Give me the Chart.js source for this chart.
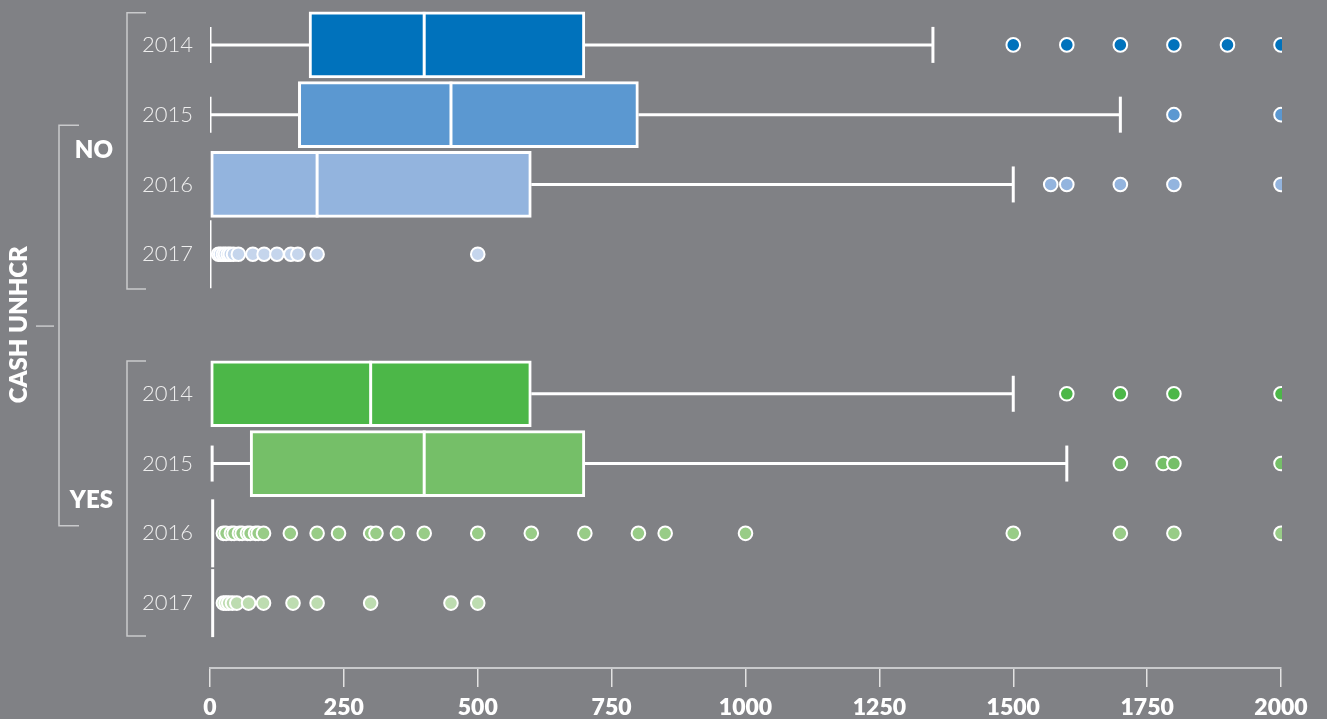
<!DOCTYPE html>
<html lang="en">
<head>
<meta charset="UTF-8">
<title>Cash UNHCR - box plot</title>
<script src="https://cdn.jsdelivr.net/npm/chart.js"></script>
<style>
  html, body { margin: 0; padding: 0; background: #808185; }
  #wrap { width: 1327px; height: 719px; }
</style>
</head>
<body>
<div id="wrap"><canvas id="chart"></canvas></div>
<script>
// rows from top to bottom, slot 4 is the gap between the two groups
const rowLabels = ['2014', '2015', '2016', '2017', '', '2014', '2015', '2016', '2017'];
const groupLabels = ['NO', 'YES'];
const axisTitle = 'CASH UNHCR';
const xTicks = [0, 250, 500, 750, 1000, 1250, 1500, 1750, 2000];

const whiskerLow  = [0,    0,    0,    0, null, 0,    4,    5, 5];
const q1          = [185,  165,  0,    0, null, 0,    75,   5, 5];
const median      = [400,  450,  200,  0, null, 300,  400,  5, 5];
const q3          = [700,  800,  600,  0, null, 600,  700,  5, 5];
const whiskerHigh = [1350, 1700, 1500, 0, null, 1500, 1600, 5, 5];

const outNo2014 = [1500, 1600, 1700, 1800, 1900, 2000];
const outNo2015 = [1800, 2000];
const outNo2016 = [1570, 1600, 1700, 1800, 2000];
const outNo2017 = [16, 20, 25, 29, 34, 38, 44, 53, 80, 101, 125, 151, 164, 200, 500];
const outYes2014 = [1600, 1700, 1800, 2000];
const outYes2015 = [1700, 1780, 1800, 2000];
const outYes2016 = [25, 30, 40, 45, 55, 60, 70, 75, 85, 90, 100, 150, 200, 240, 300, 310, 350, 400, 500, 600, 700, 800, 850, 1000, 1500, 1700, 1800, 2000];
const outYes2017 = [25, 30, 35, 42, 50, 72, 100, 155, 200, 300, 450, 500];
const outliers = [outNo2014, outNo2015, outNo2016, outNo2017, null, outYes2014, outYes2015, outYes2016, outYes2017];

const rowColors = ['#0072bc', '#5b98d1', '#93b4de', '#c5d5ec', null, '#4cb748', '#75bf68', '#98cc87', '#bddcb0'];

const rows = rowLabels.map((l, i) => i).filter(i => rowLabels[i] !== '');
const datasets = [];

// whiskers
rows.forEach(i => {
  if (whiskerLow[i] < q1[i]) {
    datasets.push({ type: 'line', order: 3, data: [{ x: whiskerLow[i], y: i }, { x: q1[i], y: i }],
      borderColor: '#fff', borderWidth: 3, pointRadius: 0 });
  }
  if (whiskerHigh[i] > q3[i]) {
    datasets.push({ type: 'line', order: 3, data: [{ x: q3[i], y: i }, { x: whiskerHigh[i], y: i }],
      borderColor: '#fff', borderWidth: 3, pointRadius: 0 });
  }
});

// whisker caps
const caps = [];
rows.forEach(i => {
  if (whiskerLow[i] < q1[i]) caps.push({ x: whiskerLow[i], y: i });
  if (whiskerHigh[i] > q3[i]) caps.push({ x: whiskerHigh[i], y: i });
});
datasets.push({ type: 'scatter', order: 3, data: caps, pointStyle: 'line', rotation: 90,
  pointRadius: 18, borderColor: '#fff', borderWidth: 3 });

// boxes
datasets.push({
  type: 'bar', indexAxis: 'y', order: 2,
  data: rows.filter(i => q3[i] > q1[i]).map(i => ({ y: i, x: [q1[i], q3[i]] })),
  backgroundColor: c => rowColors[c.raw.y],
  borderColor: '#fff', borderWidth: 3, borderSkipped: false, barThickness: 66
});

// medians
datasets.push({ type: 'scatter', order: 1, data: rows.map(i => ({ x: median[i], y: i })),
  pointStyle: 'line', rotation: 90, borderColor: '#fff', borderWidth: 3,
  pointRadius: c => (q3[c.raw.y] > q1[c.raw.y] ? 33 : 34) });

// outliers
rows.forEach(i => {
  datasets.push({ type: 'scatter', order: 0, data: outliers[i].map(v => ({ x: v, y: i })),
    backgroundColor: rowColors[i], borderColor: '#fff', borderWidth: 2, pointRadius: 6.8,
    clip: { left: 10, top: 10, right: 1, bottom: 10 } });
});

const sideLabels = {
  id: 'sideLabels',
  afterDraw(chart) {
    const ctx = chart.ctx;
    const py = v => chart.scales.y.getPixelForValue(v);
    const bracket = (x, top, bottom, len) => {
      ctx.beginPath();
      ctx.moveTo(x + len, top); ctx.lineTo(x, top); ctx.lineTo(x, bottom); ctx.lineTo(x + len, bottom);
      ctx.stroke();
    };
    ctx.save();
    ctx.strokeStyle = '#c9cacc';
    ctx.lineWidth = 1.5;
    bracket(127, py(-0.46), py(3.5), 19);
    bracket(127, py(4.53), py(8.47), 19);
    bracket(59, py(1.15), py(6.89), 20);
    ctx.beginPath(); ctx.moveTo(36, py(4.03)); ctx.lineTo(54, py(4.03)); ctx.stroke();

    ctx.fillStyle = '#fff';
    ctx.font = '800 24px Lato';
    ctx.textAlign = 'right';
    ctx.textBaseline = 'middle';
    ctx.fillText(groupLabels[0], 113, py(1.51));
    ctx.fillText(groupLabels[1], 113, py(6.52));
    ctx.translate(19, py(4.01));
    ctx.rotate(-Math.PI / 2);
    ctx.textAlign = 'center';
    ctx.fillText(axisTitle, 0, 0);
    ctx.restore();
  }
};

new Chart(document.getElementById('chart'), {
  type: 'bar',
  data: { datasets: datasets },
  options: {
    responsive: true,
    maintainAspectRatio: false,
    animation: false,
    events: [],
    layout: { autoPadding: false, padding: { top: 10, right: 46, left: 0, bottom: 0 } },
    plugins: { legend: { display: false }, tooltip: { enabled: false } },
    scales: {
      x: {
        type: 'linear', position: 'bottom', min: 0, max: 2000, offset: false,
        afterBuildTicks: s => { s.ticks = xTicks.map(v => ({ value: v })); },
        afterFit: s => { s.height = 51; },
        grid: { offset: false, drawOnChartArea: false, drawTicks: true, tickLength: 19, color: '#e2e2e2', lineWidth: 1.5 },
        border: { display: true, color: '#c9cacc', width: 2 },
        ticks: { color: '#fff', padding: 7, maxRotation: 0, callback: v => String(v),
          font: { family: 'Lato', weight: '800', size: 23 } }
      },
      y: {
        type: 'linear', position: 'left', reverse: true, min: -0.5, max: 8.93, offset: false,
        afterBuildTicks: s => { s.ticks = rows.map(v => ({ value: v })); },
        afterFit: s => { s.width = 210; s.paddingTop = 0; s.paddingBottom = 0; },
        grid: { offset: false, display: false, drawTicks: false },
        border: { display: false },
        ticks: { color: '#eeeeee', padding: 17, callback: v => rowLabels[v],
          font: { family: 'Lato', weight: '300', size: 22 } }
      }
    }
  },
  plugins: [sideLabels]
});
</script>
</body>
</html>
